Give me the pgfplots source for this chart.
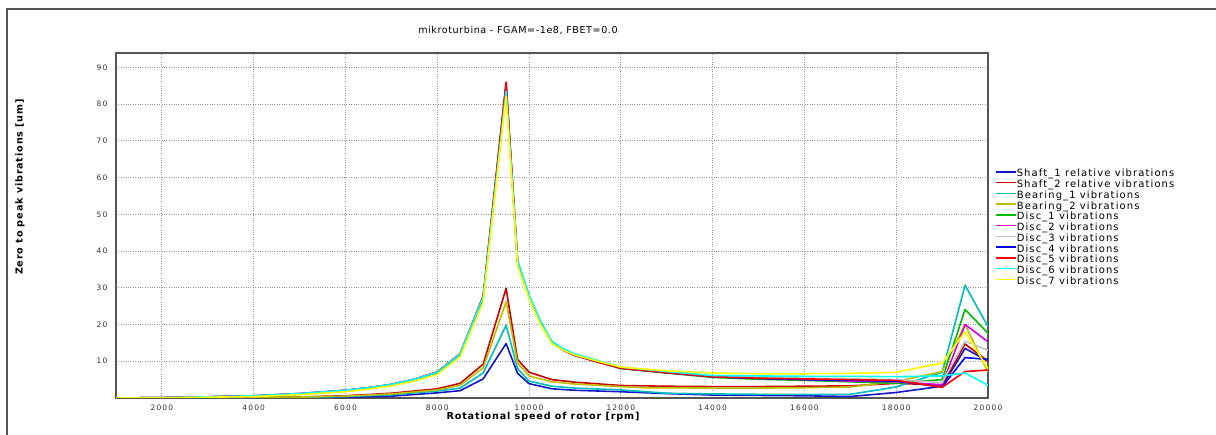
\documentclass[border=0pt]{standalone}
\usepackage{pgfplots}
\pgfplotsset{compat=1.18}
\usepackage{fontspec}
\setmainfont{DejaVu Sans}
\newfontfamily\titlefont{DejaVu Sans}[LetterSpace=6]
\newfontfamily\labfont{DejaVu Sans}[LetterSpace=9]
\newfontfamily\legfont{DejaVu Sans}[LetterSpace=11]
\newfontfamily\tickfont{DejaVu Sans}[LetterSpace=16]
\definecolor{cShaftA}{RGB}{20,20,200}
\definecolor{cShaftB}{RGB}{200,0,0}
\definecolor{cBearA}{RGB}{0,190,190}
\definecolor{cBearB}{RGB}{190,190,0}
\definecolor{cDiscA}{RGB}{0,190,0}
\definecolor{cDiscB}{RGB}{220,0,220}
\definecolor{cDiscC}{RGB}{195,195,195}
\definecolor{cDiscD}{RGB}{0,0,255}
\definecolor{cDiscE}{RGB}{255,0,0}
\definecolor{cDiscF}{RGB}{0,255,255}
\definecolor{cDiscG}{RGB}{255,255,0}
\definecolor{frame}{RGB}{85,85,85}
\begin{document}
\begin{tikzpicture}[x=1pt,y=1pt]
\path[use as bounding box] (0,0) rectangle (1216,435);
\draw[frame, line width=1.2pt] (7,0) -- (7,426) -- (1216,426);
\node[font=\titlefont\fontsize{9.6}{11}\selectfont] at (518,405) {mikroturbina - FGAM=-1e8, FBET=0.0};
\node[font=\labfont\bfseries\fontsize{9.6}{11}\selectfont, rotate=90] at (20,248) {Zero to peak vibrations [um]};
\node[font=\labfont\bfseries\fontsize{9.6}{11}\selectfont] at (543,18) {Rotational speed of rotor [rpm]};
\begin{axis}[
  at={(116pt,37pt)}, anchor=south west,
  scale only axis, width=872pt, height=345pt,
  xmin=1000, xmax=20000, ymin=0, ymax=93.9,
  xtick={2000,4000,...,20000}, ytick={10,20,...,90},
  scaled x ticks=false,
  /pgf/number format/set thousands separator={},
  /pgf/number format/assume math mode=true,
  ticklabel style={font=\tickfont\fontsize{7.5}{8}\selectfont, text=black!80},
  xticklabel style={yshift=-3pt},
  yticklabel style={xshift=-5pt},
  major tick length=0pt,
  grid=major,
  major grid style={dotted, gray!80, line width=0.8pt},
  axis line style={frame, line width=1.2pt},
  every axis plot/.append style={line width=1.6pt, line join=round},
  legend style={draw=none, fill=none, at={(1,0.662)}, anchor=north west,
    xshift=7pt, inner sep=0pt, row sep=1.76pt,
    font=\legfont\fontsize{10}{11}\selectfont,
    nodes={inner sep=0pt, text height=7pt, text depth=2pt}},
  legend cell align=left,
  legend image code/.code={\draw[#1, line width=1.6pt] (0pt,2.5pt) -- (20pt,2.5pt);},
]
% Shaft_1
\addplot[cShaftA] coordinates {(1000,0)(3000,0)(5000,0.05)(6000,0.2)(7000,0.5)(8000,1.4)(8500,2.0)(9000,5.2)(9500,14.8)(9750,6.7)(10000,3.9)(10500,2.5)(11000,2.1)(12000,1.7)(13000,1.2)(14000,0.8)(15000,0.7)(16000,0.6)(17000,0.4)(18000,1.5)(19000,3.2)(19500,13.5)(20000,10)};
\addlegendentry{Shaft\_1 relative vibrations}
% Shaft_2
\addplot[cShaftB] coordinates {(1000,0)(3000,0.1)(5000,0.3)(6000,0.6)(7000,1.3)(8000,2.5)(8500,4.0)(9000,9.2)(9500,29.8)(9750,10.5)(10000,7.0)(10500,5.0)(11000,4.3)(12000,3.4)(13000,3.2)(14000,3.1)(15000,3.1)(16000,3.2)(17000,3.3)(18000,4.0)(19000,3.5)(19500,14.7)(20000,10)};
\addlegendentry{Shaft\_2 relative vibrations}
% Bearing_1
\addplot[cBearA] coordinates {(1000,0)(3000,0.05)(5000,0.2)(6000,0.4)(7000,0.9)(8000,1.9)(8500,2.7)(9000,6.8)(9500,19.8)(9750,8.0)(10000,4.6)(10500,3.2)(11000,2.7)(12000,2.2)(13000,1.3)(14000,1.1)(15000,1.0)(16000,1.0)(17000,1.0)(18000,3.0)(19000,7.0)(19500,30.7)(20000,19.4)};
\addlegendentry{Bearing\_1 vibrations}
% Bearing_2
\addplot[cBearB] coordinates {(1000,0)(3000,0.1)(5000,0.25)(6000,0.5)(7000,1.1)(8000,2.2)(8500,3.5)(9000,8.2)(9500,26.2)(9750,9.5)(10000,6.0)(10500,4.4)(11000,3.8)(12000,3.1)(12500,2.8)(14000,2.7)(15000,2.7)(16000,2.8)(17000,3.0)(18000,4.5)(19000,7.2)(19500,20)(20000,7)};
\addlegendentry{Bearing\_2 vibrations}
% Disc_1
\addplot[cDiscA] coordinates {(1000,0)(2000,0.1)(3000,0.3)(4000,0.5)(5000,1.0)(6000,1.9)(6500,2.6)(7000,3.5)(7500,4.9)(8000,6.9)(8500,11.8)(9000,27)(9500,84.5)(9750,37)(10000,27.5)(10250,20.5)(10500,15)(10750,13)(11000,11.6)(11500,9.8)(12000,8.0)(13000,6.8)(14000,5.6)(15000,5.1)(16000,4.8)(17000,4.4)(18000,4.0)(19000,5.0)(19500,24.1)(20000,17.6)};
\addlegendentry{Disc\_1 vibrations}
% Disc_2
\addplot[cDiscB] coordinates {(1000,0)(2000,0.1)(3000,0.3)(4000,0.5)(5000,1.0)(6000,1.9)(6500,2.6)(7000,3.5)(7500,4.9)(8000,6.9)(8500,11.8)(9000,27)(9500,84.5)(9750,37)(10000,27.5)(10250,20.5)(10500,15)(10750,13)(11000,11.6)(11500,9.8)(12000,8.1)(13000,6.9)(14000,5.8)(15000,5.4)(16000,5.0)(17000,4.6)(18000,4.4)(19000,3.6)(19500,20)(20000,15.3)};
\addlegendentry{Disc\_2 vibrations}
% Disc_3
\addplot[cDiscC] coordinates {(1000,0)(2000,0.1)(3000,0.3)(4000,0.5)(5000,1.0)(6000,1.9)(6500,2.6)(7000,3.5)(7500,4.9)(8000,6.9)(8500,11.8)(9000,27)(9500,84)(9750,37)(10000,27.5)(10250,20.5)(10500,15)(10750,13)(11000,11.6)(11500,9.8)(12000,8.1)(13000,7.0)(14000,6.0)(15000,5.6)(16000,5.4)(17000,5.2)(18000,5.0)(19000,4.2)(19500,15.5)(20000,13)};
\addlegendentry{Disc\_3 vibrations}
% Disc_4
\addplot[cDiscD] coordinates {(1000,0)(2000,0.1)(3000,0.3)(4000,0.6)(5000,1.2)(6000,2.1)(6500,2.8)(7000,3.7)(7500,5.1)(8000,7.0)(8500,12.0)(9000,27.5)(9500,85.5)(9750,37)(10000,27.5)(10250,20.5)(10500,15)(10750,13)(11000,11.6)(11500,9.8)(12000,8.1)(13000,6.9)(14000,5.8)(15000,5.3)(16000,5.0)(17000,4.8)(18000,4.6)(19000,3.0)(19500,11)(20000,10.5)};
\addlegendentry{Disc\_4 vibrations}
% Disc_5
\addplot[cDiscE] coordinates {(1000,0)(2000,0.1)(3000,0.3)(4000,0.6)(5000,1.2)(6000,2.1)(6500,2.8)(7000,3.7)(7500,5.1)(8000,7.1)(8500,12.1)(9000,27.8)(9500,86)(9750,37.3)(10000,27.7)(10250,20.6)(10500,15)(10750,13)(11000,11.6)(11500,9.8)(12000,8.1)(13000,6.9)(14000,5.8)(15000,5.4)(16000,5.2)(17000,5.0)(18000,4.8)(19000,2.9)(19500,7.2)(20000,7.6)};
\addlegendentry{Disc\_5 vibrations}
% Disc_6
\addplot[cDiscF] coordinates {(1000,0)(2000,0.1)(3000,0.3)(4000,0.6)(5000,1.2)(6000,2.1)(6500,2.8)(7000,3.7)(7500,5.1)(8000,7.0)(8500,12.0)(9000,27.5)(9500,83.5)(9750,37.5)(10000,28)(10250,21)(10500,15.4)(10750,13.4)(11000,12.0)(11500,10.2)(12000,8.4)(13000,7.2)(14000,6.1)(15000,6.0)(16000,5.9)(17000,5.9)(18000,5.8)(19000,6.0)(19500,6.8)(20000,3.5)};
\addlegendentry{Disc\_6 vibrations}
% Disc_7
\addplot[cDiscG] coordinates {(1000,0)(2000,0.05)(3000,0.2)(4000,0.4)(5000,0.9)(6000,1.7)(6500,2.4)(7000,3.3)(7500,4.6)(8000,6.4)(8500,11.2)(9000,26)(9500,82)(9750,36)(10000,27)(10250,20)(10500,14.8)(10750,13)(11000,11.7)(11500,10.0)(12000,8.4)(13000,7.4)(14000,6.8)(15000,6.6)(16000,6.6)(17000,6.7)(18000,7.0)(19000,9.5)(19500,18)(20000,8)};
\addlegendentry{Disc\_7 vibrations}
\end{axis}
\end{tikzpicture}
\end{document}
